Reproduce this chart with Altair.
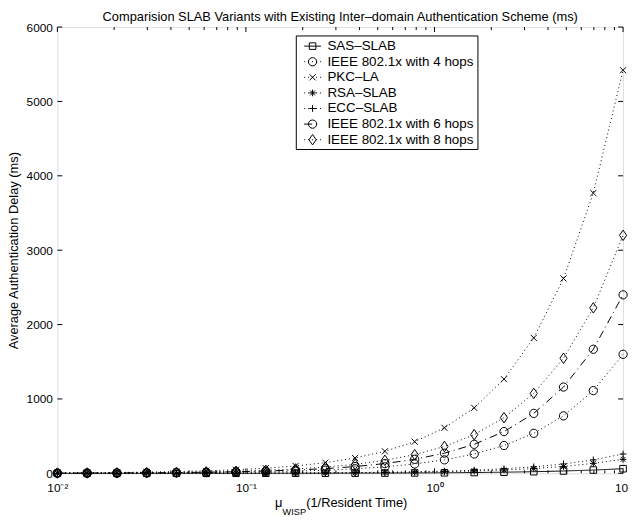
import altair as alt
import pandas as pd

# ---------------- data ----------------
x_vals = [0.0100, 0.01438, 0.02069, 0.02976, 0.04281, 0.06158, 0.08859, 0.1274,
          0.1833, 0.2637, 0.3793, 0.5456, 0.7848, 1.129, 1.624, 2.336, 3.360,
          4.833, 6.952, 10.0]

series_names = ["SAS–SLAB", "IEEE 802.1x with 4 hops", "PKC–LA", "RSA–SLAB",
                "ECC–SLAB", "IEEE 802.1x with 6 hops", "IEEE 802.1x with 8 hops"]

sas_slab = [0.065, 0.093, 0.13, 0.19, 0.28, 0.40, 0.58, 0.83, 1.2, 1.7, 2.5, 3.5,
            5.1, 7.3, 10.6, 15.2, 21.8, 31.4, 44, 62]
ieee_4 = [1.6, 2.3, 3.3, 4.8, 6.8, 9.9, 14, 20, 29, 42, 61, 87, 126, 181, 260,
          374, 538, 773, 1112, 1600]
pkc_la = [5.4, 7.8, 11.2, 16.1, 23.2, 33.4, 48, 69, 99, 143, 206, 296, 425, 612,
          880, 1266, 1821, 2620, 3768, 5420]
rsa_slab = [0.19, 0.27, 0.39, 0.57, 0.81, 1.2, 1.7, 2.4, 3.5, 5.0, 7.2, 10.4, 14.9,
            21, 31, 44, 64, 92, 134, 188]
ecc_slab = [0.26, 0.37, 0.54, 0.77, 1.1, 1.6, 2.3, 3.3, 4.8, 6.9, 9.9, 14.2, 20.4,
            29, 42, 61, 87, 126, 181, 260]
ieee_6 = [2.4, 3.5, 5.0, 7.1, 10.3, 14.8, 21, 31, 44, 63, 91, 131, 188, 271, 390,
          561, 806, 1160, 1668, 2400]
ieee_8 = [3.2, 4.6, 6.6, 9.5, 13.7, 19.7, 28, 41, 59, 84, 121, 175, 251, 361, 520,
          748, 1075, 1547, 2225, 3200]

all_series = [sas_slab, ieee_4, pkc_la, rsa_slab, ecc_slab, ieee_6, ieee_8]

x_major = [0.01, 0.1, 1, 10]
x_major_labels = ["10⁻²", "10⁻¹", "10⁰", "10¹"]
x_minor = [m * d for d in [0.01, 0.1, 1] for m in range(2, 10)]
y_ticks = [0, 1000, 2000, 3000, 4000, 5000, 6000]

title_text = "Comparision SLAB Variants with Existing Inter–domain Authentication Scheme (ms)"
y_title = "Average Authentication Delay (ms)"
x_title_parts = ["μ", "WISP", "(1/Resident Time)"]

# ---------------- styles ----------------
FONT = "Liberation Sans"
W, H = 573, 452
CROSS = "M-1,-1L1,1M1,-1L-1,1"
PLUS = "M-1,0L1,0M0,-1L0,1"
STAR = "M-1,0L1,0M0,-1L0,1M-0.72,-0.72L0.72,0.72M0.72,-0.72L-0.72,0.72"
DIAMOND = "M0,-1.3L0.9,0L0,1.3L-0.9,0Z"
styles = [
    dict(dash=[1, 0], shape="square", size=44),
    dict(dash=[1, 3], shape="circle", size=70),
    dict(dash=[1, 3], shape=CROSS, size=38),
    dict(dash=[1, 3], shape=STAR, size=46),
    dict(dash=[1, 3], shape=PLUS, size=46),
    dict(dash=[8, 4, 1, 4], shape="circle", size=70),
    dict(dash=[1, 3], shape=DIAMOND, size=66),
]

xscale = alt.Scale(type="log", domain=[0.01, 10], nice=False)
yscale = alt.Scale(domain=[0, 6000], nice=False, zero=False)

label_expr = "[" + ",".join("'%s'" % s for s in x_major_labels) + "][round(log(datum.value)/LN10)+2]"
x_axis = alt.Axis(values=x_major, labelExpr=label_expr, ticks=False, domain=False,
                  grid=False, title=None, labelFont=FONT, labelFontSize=12,
                  labelColor="black", labelPadding=9, labelFlush=False)
y_axis = alt.Axis(values=y_ticks, format="d", ticks=False, domain=False, grid=False,
                  title=y_title, titleFont=FONT, titleFontSize=13,
                  titleFontWeight="normal", titleColor="black", titlePadding=6,
                  labelFont=FONT, labelFontSize=12, labelColor="black",
                  labelPadding=5, labelFlush=False)

layers = []
for name, vals, st in zip(series_names, all_series, styles):
    d = pd.DataFrame({"x": x_vals, "y": vals, "series": name})
    base = alt.Chart(d)
    layers.append(base.mark_line(color="black", strokeWidth=1, strokeDash=st["dash"], clip=False)
                  .encode(x=alt.X("x:Q", scale=xscale, axis=x_axis),
                          y=alt.Y("y:Q", scale=yscale, axis=y_axis)))
    layers.append(base.mark_point(filled=False, color="black", strokeWidth=1, opacity=1,
                                  shape=st["shape"], size=st["size"], clip=False)
                  .encode(x=alt.X("x:Q", scale=xscale, axis=x_axis),
                          y=alt.Y("y:Q", scale=yscale, axis=y_axis)))

# inward tick marks (all four sides)
xmaj_df = pd.DataFrame({"x": x_major})
xmin_df = pd.DataFrame({"x": x_minor})
y_df = pd.DataFrame({"y": y_ticks})
for dfx, ln in [(xmaj_df, 5), (xmin_df, 3)]:
    layers.append(alt.Chart(dfx).mark_rule(color="black", strokeWidth=1).encode(
        x=alt.X("x:Q", scale=xscale, axis=x_axis), y=alt.value(H), y2=alt.value(H - ln)))
    layers.append(alt.Chart(dfx).mark_rule(color="black", strokeWidth=1).encode(
        x=alt.X("x:Q", scale=xscale, axis=x_axis), y=alt.value(0), y2=alt.value(ln)))
layers.append(alt.Chart(y_df).mark_rule(color="black", strokeWidth=1).encode(
    y=alt.Y("y:Q", scale=yscale, axis=y_axis), x=alt.value(0), x2=alt.value(5)))
layers.append(alt.Chart(y_df).mark_rule(color="black", strokeWidth=1).encode(
    y=alt.Y("y:Q", scale=yscale, axis=y_axis), x=alt.value(W), x2=alt.value(W - 5)))

# legend box
one = pd.DataFrame({"a": [0]})
LX1, LX2, LY1, LY2 = 242, 426, 9, 124
layers.append(alt.Chart(one).mark_rect(fill="white", stroke="black", strokeWidth=1).encode(
    x=alt.value(LX1), x2=alt.value(LX2), y=alt.value(LY1), y2=alt.value(LY2)))
for i, (name, st) in enumerate(zip(series_names, styles)):
    ry = LY1 + 10.3 + i * 15.8
    row = pd.DataFrame({"name": [name]})
    c = alt.Chart(row)
    layers.append(c.mark_rule(color="black", strokeWidth=1, strokeDash=st["dash"]).encode(
        x=alt.value(LX1 + 8), x2=alt.value(LX1 + 25), y=alt.value(ry)))
    layers.append(c.mark_point(filled=False, color="black", strokeWidth=1, opacity=1,
                               shape=st["shape"], size=st["size"]).encode(
        x=alt.value(LX1 + 16.5), y=alt.value(ry)))
    layers.append(c.mark_text(align="left", baseline="middle", font=FONT, fontSize=13.6,
                              color="black").encode(
        x=alt.value(LX1 + 31.5), y=alt.value(ry), text="name:N"))

# chart title (drawn as text so it can sit tight above the frame)
layers.append(alt.Chart(one).mark_text(align="center", baseline="alphabetic", font=FONT,
                                       fontSize=13, color="black").encode(
    x=alt.value(W / 2), y=alt.value(-6.5), text=alt.value(title_text)))

# x-axis title with subscript
XL = 220.5
XLY = H + 34
layers.append(alt.Chart(one).mark_text(align="left", baseline="alphabetic", font=FONT,
                                       fontSize=13, color="black").encode(
    x=alt.value(XL), y=alt.value(XLY), text=alt.value(x_title_parts[0])))
layers.append(alt.Chart(one).mark_text(align="left", baseline="alphabetic", font=FONT,
                                       fontSize=9.3, color="black").encode(
    x=alt.value(XL + 7.6), y=alt.value(XLY + 8), text=alt.value(x_title_parts[1])))
layers.append(alt.Chart(one).mark_text(align="left", baseline="alphabetic", font=FONT,
                                       fontSize=13, color="black").encode(
    x=alt.value(XL + 31.5), y=alt.value(XLY), text=alt.value(x_title_parts[2])))

chart = alt.layer(*layers).properties(
    width=W, height=H,
    autosize=alt.AutoSizeParams(type="none"),
    padding={"left": 50, "top": 16, "right": 6, "bottom": 47},
).configure_view(stroke="black", strokeWidth=1).configure(background="white")

chart.save("out.html", embed_options={"renderer": "svg", "actions": False})
